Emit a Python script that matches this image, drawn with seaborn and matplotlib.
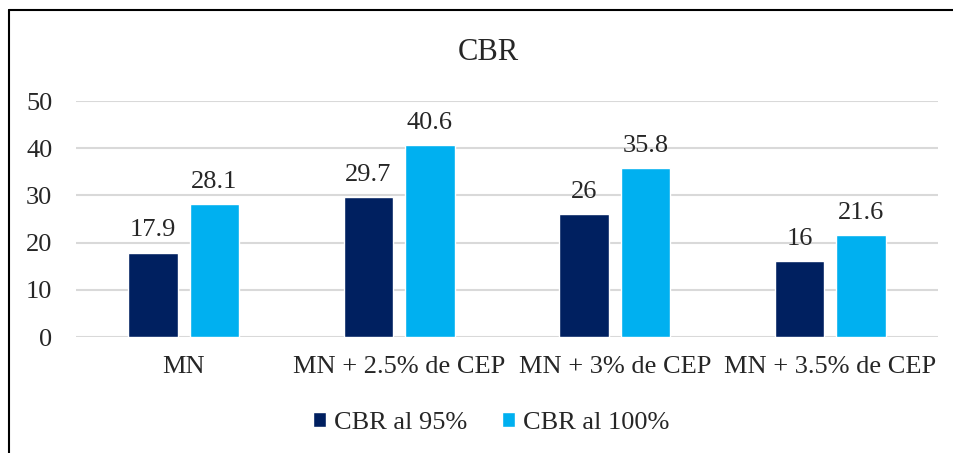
import numpy as np
import pandas as pd
import matplotlib.pyplot as plt
import seaborn as sns
from matplotlib.lines import Line2D

# datos del grafico CBR
mezclas = ["MN", "MN + 2.5% de CEP", "MN + 3% de CEP", "MN + 3.5% de CEP"]
cbr_95 = [17.9, 29.7, 26, 16]
cbr_100 = [28.1, 40.6, 35.8, 21.6]
series = ["CBR al 95%", "CBR al 100%"]
colores = ["#002060", "#00B0F0"]

df = pd.DataFrame({
    "mezcla": mezclas * 2,
    "cbr": cbr_95 + cbr_100,
    "serie": [series[0]] * len(mezclas) + [series[1]] * len(mezclas),
})

sns.set_style("white")
plt.rcParams["font.family"] = ["Liberation Serif", "DejaVu Serif"]

fig = plt.figure(figsize=(9.54, 4.53), dpi=100)
ax = fig.add_axes([76 / 954, 1 - 337 / 453, (938 - 76) / 954, (337 - 101) / 453])

sns.barplot(data=df, x="mezcla", y="cbr", hue="serie", palette=colores,
            width=0.57, gap=0.2, saturation=1, ax=ax)

for c in ax.containers:
    ax.bar_label(c, fmt="%g", padding=8, fontsize=19)

ax.set_ylim(0, 50)
ax.set_yticks(range(0, 51, 10))
ax.yaxis.grid(True, color="#D9D9D9", lw=1.5)
ax.set_axisbelow(True)
for s in ax.spines.values():
    s.set_visible(False)
ax.tick_params(axis="y", length=0, pad=17, labelsize=19)
ax.tick_params(axis="x", length=0, pad=14, labelsize=19)
ax.set_xlabel("")
ax.set_ylabel("")

handles, labels = ax.get_legend_handles_labels()
ax.get_legend().remove()
fig.legend(handles, labels, loc="center", bbox_to_anchor=(491 / 954, 1 - 423 / 453),
           ncol=2, frameon=False, fontsize=19, handlelength=0.5, handleheight=0.5,
           handletextpad=0.3, columnspacing=1.3)

fig.text(488 / 954, 1 - 52 / 453, "CBR", ha="center", va="center", fontsize=22)

# marco del grafico
fig.add_artist(Line2D([9 / 954, 9 / 954], [0, 1 - 10 / 453], transform=fig.transFigure, color="black", lw=1.5))
fig.add_artist(Line2D([9 / 954, 1], [1 - 10 / 453, 1 - 10 / 453], transform=fig.transFigure, color="black", lw=1.5))

fig.savefig("out.png", dpi=100)
